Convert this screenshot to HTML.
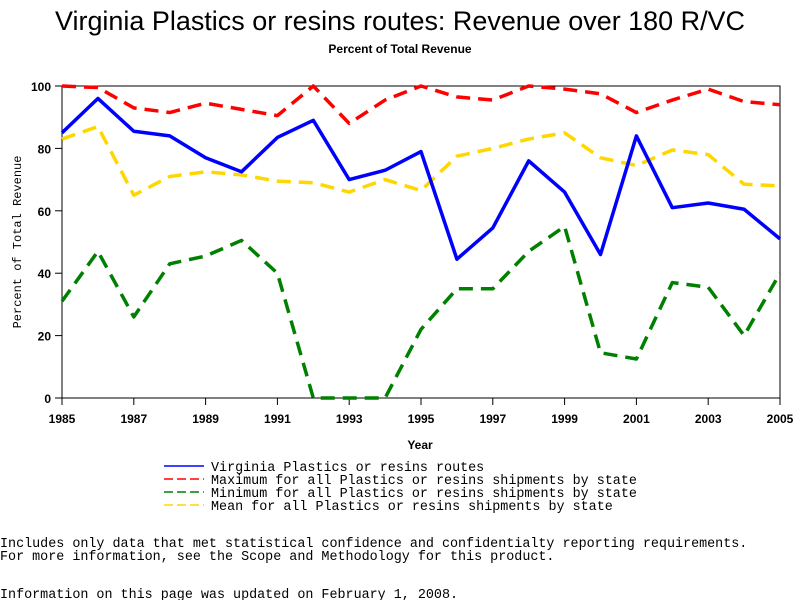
<!DOCTYPE html>
<html><head><meta charset="utf-8"><style>
body{margin:0;background:#fff;width:800px;height:600px;overflow:hidden}
svg{display:block}
.mono{font-family:"Liberation Mono",monospace}
</style></head><body>
<svg id="chart" width="800" height="600" xmlns="http://www.w3.org/2000/svg">
<text x="400" y="30" text-anchor="middle" font-family="Liberation Sans,sans-serif" font-size="27" textLength="690" lengthAdjust="spacingAndGlyphs">Virginia Plastics or resins routes: Revenue over 180 R/VC</text>
<text x="400" y="53" text-anchor="middle" font-family="Liberation Sans,sans-serif" font-size="12" font-weight="bold">Percent of Total Revenue</text>
<rect x="62" y="86" width="718" height="312" fill="none" stroke="#000" stroke-width="1"/>
<g id="axes"></g>
<g id="series"></g>
<text x="420" y="449" text-anchor="middle" font-family="Liberation Sans,sans-serif" font-size="12" font-weight="bold">Year</text>
<text transform="translate(21,242) rotate(-90)" text-anchor="middle" class="mono" font-size="12">Percent of Total Revenue</text>
<g id="legend"></g>
<text x="0" y="547" class="mono" font-size="13.4">Includes only data that met statistical confidence and confidentialty reporting requirements.</text>
<text x="0" y="560" class="mono" font-size="13.4">For more information, see the Scope and Methodology for this product.</text>
<text x="0" y="598" class="mono" font-size="13.4">Information on this page was updated on February 1, 2008.</text>
</svg>
<script>
const years=[1985,1986,1987,1988,1989,1990,1991,1992,1993,1994,1995,1996,1997,1998,1999,2000,2001,2002,2003,2004,2005];
const virginia=[85,96,85.5,84,77,72.5,83.5,89,70,73,79,44.5,54.5,76,66,46,84,61,62.5,60.5,51];
const maxVals=[100,99.5,93,91.5,94.5,92.5,90.5,100,88,95.5,100,96.5,95.5,100,99,97.5,91.5,95.5,99,95,94];
const minVals=[31,47,26,43,45.5,50.5,40,0,0,0,22,35,35,47,55,14.5,12.5,37,35.5,20,40];
const meanVals=[83,87,65,71,72.5,71.5,69.5,69,66,70,66.5,77.5,80,83,85,77,74.5,79.5,78,68.5,68];
const xTicks=[1985,1987,1989,1991,1993,1995,1997,1999,2001,2003,2005];
const yTicks=[0,20,40,60,80,100];
const legendLabels=["Virginia Plastics or resins routes","Maximum for all Plastics or resins shipments by state","Minimum for all Plastics or resins shipments by state","Mean for all Plastics or resins shipments by state"];
const NS="http://www.w3.org/2000/svg";
const X=v=>62+(v-1985)*(718/20);
const Y=v=>398-v*3.12;
function mk(tag,attrs,parent){const e=document.createElementNS(NS,tag);for(const k in attrs)e.setAttribute(k,attrs[k]);parent.appendChild(e);return e;}
const axes=document.getElementById('axes');
xTicks.forEach(t=>{
  const l=mk('line',{x1:X(t),x2:X(t),y1:398,y2:405,stroke:'#000'},axes);
  
  
  const tx=mk('text',{x:X(t),y:423,'text-anchor':'middle','font-family':'Liberation Sans,sans-serif','font-size':'12','font-weight':'bold'},axes);
  tx.textContent=t;
  
  
});
yTicks.forEach(t=>{
  const l=mk('line',{x1:55,x2:62,y1:Y(t),y2:Y(t),stroke:'#000'},axes);
  
  
  const tx=mk('text',{x:51,y:Y(t)+5,'text-anchor':'end','font-family':'Liberation Sans,sans-serif','font-size':'12','font-weight':'bold'},axes);
  tx.textContent=t;
  
  
});
const ser=document.getElementById('series');
const defs=[[maxVals,'#ff0000','14 8','max-series-line'],[minVals,'#008000','14 8','min-series-line'],[meanVals,'#ffd700','14 8','mean-series-line'],[virginia,'#0000ff','','virginia-series-line']];
defs.forEach(([vals,c,d,name])=>{
  const p=mk('polyline',{points:vals.map((v,i)=>X(years[i])+','+Y(v)).join(' '),fill:'none',stroke:c,'stroke-width':'3.5','stroke-dasharray':d,'stroke-linejoin':'round'},ser);
  
  
});
const lg=document.getElementById('legend');
const lc=[['#0000ff',''],['#ff0000','9 4'],['#008000','9 4'],['#ffd700','9 4']];
legendLabels.forEach((t,i)=>{
  const y=466+i*13;
  const l=mk('line',{x1:164,x2:204,y1:y,y2:y,stroke:lc[i][0],'stroke-width':'1.5','stroke-dasharray':lc[i][1]},lg);
  
  
  const tx=mk('text',{x:211,y:y+5,class:'mono','font-size':'13.4'},lg);
  tx.textContent=t;
  
  
});
</script>
</body></html>
